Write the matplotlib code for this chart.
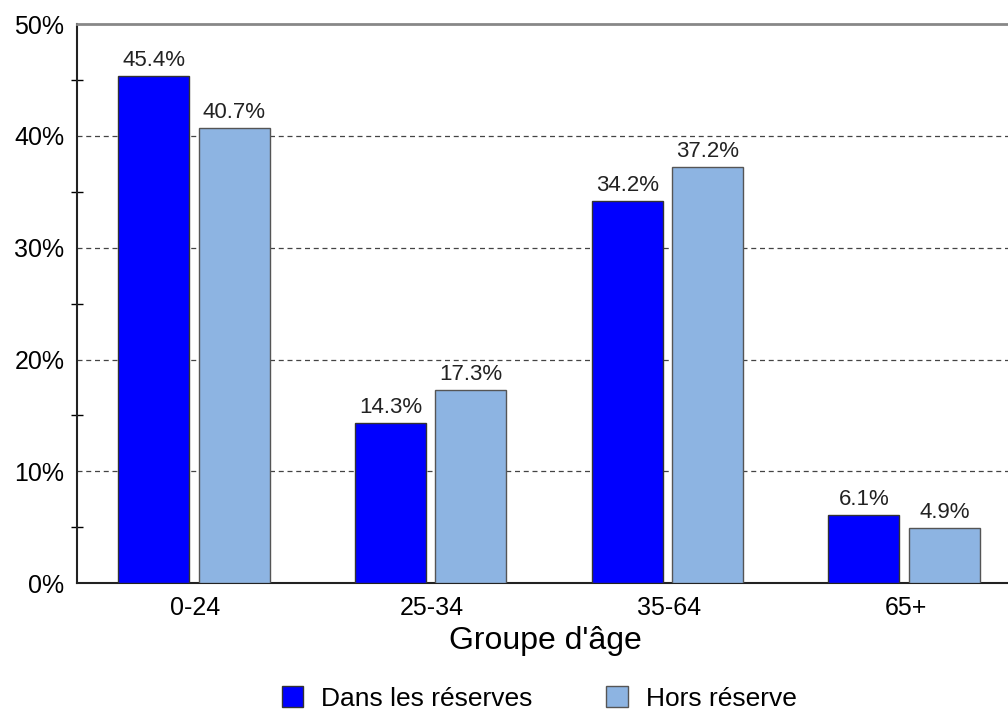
import matplotlib.pyplot as plt
import numpy as np

plt.rcParams['font.family'] = ['Liberation Sans', 'DejaVu Sans']

groupes = ["0-24", "25-34", "35-64", "65+"]
dans_reserves = [45.4, 14.3, 34.2, 6.1]
hors_reserve = [40.7, 17.3, 37.2, 4.9]

fig = plt.figure(figsize=(10.08, 7.12), dpi=100)
ax = fig.add_axes([0.0764, 0.181, 0.93, 0.785])

x = np.arange(len(groupes))
w = 0.30
gap = 0.04
b1 = ax.bar(x - (w + gap) / 2 - 0.006, dans_reserves, w, color="#0000ff",
            edgecolor="#333333", linewidth=1, label="Dans les réserves", zorder=3)
b2 = ax.bar(x + (w + gap) / 2 - 0.006, hors_reserve, w, color="#8db4e2",
            edgecolor="#555555", linewidth=1, label="Hors réserve", zorder=3)

for bars, vals in ((b1, dans_reserves), (b2, hors_reserve)):
    for rect, v in zip(bars, vals):
        ax.text(rect.get_x() + rect.get_width() / 2, v + 0.45, f"{v:.1f}%",
                ha="center", va="bottom", fontsize=16, color="#222222")

ax.set_xlim(-0.5, 3.46)
ax.set_ylim(0, 50)
ax.set_yticks([0, 10, 20, 30, 40, 50])
ax.set_yticklabels([f"{t}%" for t in range(0, 60, 10)])
ax.set_yticks(np.arange(5, 50, 10), minor=True)
ax.tick_params(axis="y", which="major", length=0, labelsize=18, pad=9)
ax.tick_params(axis="y", which="minor", length=8, direction="inout", width=1)
ax.set_xticks(x)
ax.set_xticklabels(groupes)
ax.tick_params(axis="x", length=0, labelsize=18, pad=9)

for t in [10, 20, 30, 40]:
    ax.axhline(t, color="#444444", linestyle=(0, (4, 3)), linewidth=0.9, zorder=1)

ax.spines["right"].set_visible(False)
ax.spines["top"].set_color("#888888")
ax.spines["top"].set_linewidth(2)
ax.spines["left"].set_linewidth(1.5)
ax.spines["bottom"].set_linewidth(1.5)
ax.spines["left"].set_color("#222222")
ax.spines["bottom"].set_color("#222222")

ax.set_xlabel("Groupe d'âge", fontsize=23)
ax.xaxis.set_label_coords(0.5, -0.104)
ax.xaxis.label.set_va("center")

fig.legend(handles=[b1, b2], loc="center", bbox_to_anchor=(0.535, 0.019),
           ncol=2, frameon=False, fontsize=19, handlelength=0.8, handleheight=0.8,
           columnspacing=2.8, handletextpad=0.7)

fig.savefig("out.png", dpi=100)
